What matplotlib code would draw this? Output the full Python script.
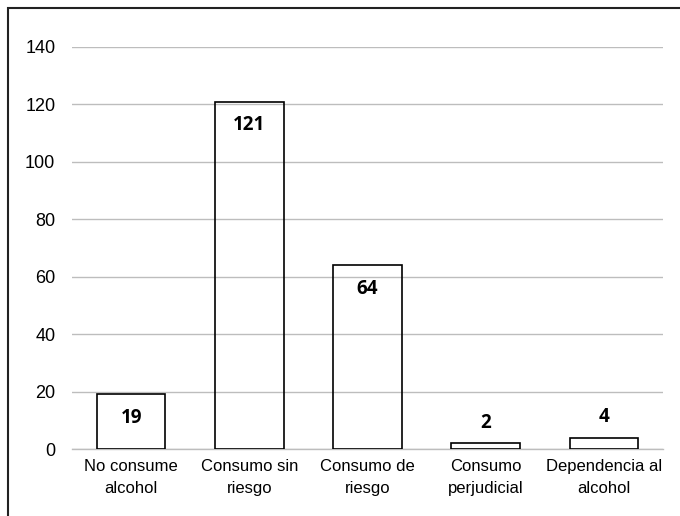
import matplotlib
matplotlib.use('Agg')
from matplotlib import pyplot as plt
from matplotlib.patches import Rectangle

categories = ['No consume\nalcohol', 'Consumo sin\nriesgo', 'Consumo de\nriesgo',
              'Consumo\nperjudicial', 'Dependencia al\nalcohol']
values = [19, 121, 64, 2, 4]
yticks = [0, 20, 40, 60, 80, 100, 120, 140]

W, H = 680, 516
fig = plt.figure(figsize=(W / 100, H / 100), dpi=100)
ax = fig.add_axes([72 / W, 1 - 449 / H, (663 - 72) / W, (449 - 47) / H])

x = range(len(values))
ax.bar(x, values, width=0.58, facecolor='none', edgecolor='black', linewidth=1.2, zorder=3)

ax.set_xlim(-0.5, len(values) - 0.5)
ax.set_ylim(0, 140)
ax.set_yticks(yticks)
ax.set_xticks(list(x))
ax.set_xticklabels(categories, family='Liberation Sans', fontsize=12, linespacing=1.6)
for lbl in ax.get_yticklabels():
    lbl.set_family('Liberation Sans')
    lbl.set_fontsize(13)
ax.tick_params(axis='both', length=0)
ax.tick_params(axis='y', pad=12)
ax.tick_params(axis='x', pad=7)
ax.yaxis.grid(True, color='#bdbdbd', linewidth=1.0, zorder=0)
ax.set_axisbelow(True)
for s in ['top', 'right', 'left']:
    ax.spines[s].set_visible(False)
ax.spines['bottom'].set_color('#bdbdbd')
ax.spines['bottom'].set_linewidth(1.0)

# value labels: inside the top for tall bars, above for short ones
for i, v in enumerate(values):
    if v > 10:
        off = -17
    else:
        off = 14.5
    ax.annotate(str(v), (i, v), xytext=(0, off), textcoords='offset points',
                ha='center', va='center', fontsize=13.5, fontweight='bold', family='Open Sans')

# outer chart border
fig.patches.append(Rectangle((8 / W, -0.1), 1.2, 1 - 8 / H + 0.1, transform=fig.transFigure,
                             fill=False, edgecolor='#222222', linewidth=1.5))

fig.savefig('out.png', dpi=100)
